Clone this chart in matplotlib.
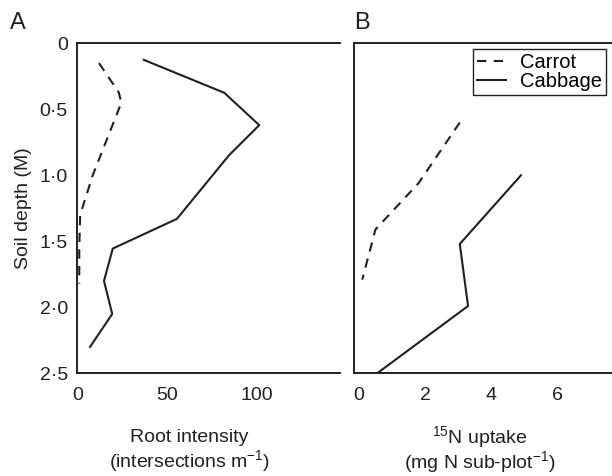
import matplotlib
matplotlib.use('Agg')
import matplotlib.pyplot as plt

plt.rcParams['font.family'] = ['Liberation Sans', 'DejaVu Sans']
plt.rcParams['mathtext.default'] = 'regular'

ink = '#231f20'

# panel A: root intensity (intersections per m) against soil depth (m)
carrot_root_depth = [0.15, 0.37, 0.45, 1.0, 1.3, 1.55, 1.82]
carrot_root = [12, 23, 24.5, 8.5, 1.5, 1, 1]
cabbage_root_depth = [0.125, 0.375, 0.62, 0.85, 1.33, 1.555, 1.8, 2.05, 2.3]
cabbage_root = [37, 82, 101.5, 84.5, 55.5, 19.7, 14.8, 19.4, 7]

# panel B: 15N uptake (mg N per sub-plot) against depth of placement
carrot_n_depth = [0.6, 1.06, 1.41, 1.79]
carrot_n = [3.05, 1.8, 0.5, 0.1]
cabbage_n_depth = [1.0, 1.52, 1.99, 2.5]
cabbage_n = [4.9, 3.05, 3.3, 0.55]

depth_ticks = [0, 0.5, 1.0, 1.5, 2.0, 2.5]
depth_labels = ['0', '0·5', '1·0', '1·5', '2·0', '2·5']

fig = plt.figure(figsize=(6.12, 4.76), dpi=100)
axA = fig.add_axes([0.1266, 0.2157, 0.429, 0.6933])
axB = fig.add_axes([0.5784, 0.2157, 0.429, 0.6933])

dash = (0, (4.5, 3.5))

axA.plot(carrot_root, carrot_root_depth, color=ink, lw=1.5, linestyle=dash)
axA.plot(cabbage_root, cabbage_root_depth, color=ink, lw=1.5)
axB.plot(carrot_n, carrot_n_depth, color=ink, lw=1.5, linestyle=dash, label='Carrot')
axB.plot(cabbage_n, cabbage_n_depth, color=ink, lw=1.5, label='Cabbage')

axA.set_xlim(0, 146.6)
axB.set_xlim(-0.15, 7.79)
for ax in (axA, axB):
    ax.set_ylim(2.5, 0)
    ax.spines['right'].set_visible(False)
    for s in ('left', 'top', 'bottom'):
        ax.spines[s].set_linewidth(1.4)
        ax.spines[s].set_color(ink)
    ax.tick_params(length=0, labelsize=14, colors=ink)
    ax.tick_params(axis='x', pad=10)
    ax.tick_params(axis='y', pad=7)

axA.set_xticks([0, 50, 100])
axB.set_xticks([0, 2, 4, 6])
axA.set_yticks(depth_ticks)
axA.set_yticklabels(depth_labels)
axB.set_yticks(depth_ticks)
axB.set_yticklabels([])

axA.set_ylabel('Soil depth (M)', fontsize=14, color=ink)
axA.yaxis.set_label_coords(-0.175, 0.5)
axA.set_xlabel('Root intensity\n(intersections m$^{-1}$)', fontsize=14, color=ink,
               linespacing=1.1)
axA.xaxis.set_label_coords(0.426, -0.17)
axB.set_xlabel('$^{15}$N uptake\n(mg N sub-plot$^{-1}$)', fontsize=14, color=ink,
               linespacing=0.95)
axB.xaxis.set_label_coords(0.477, -0.155)

leg = axB.legend(loc='upper left', bbox_to_anchor=(473 / 612, 1 - 49 / 476),
                 bbox_transform=fig.transFigure, borderaxespad=0, fontsize=14.5,
                 handlelength=1.45, handletextpad=0.7, borderpad=0.2,
                 labelspacing=0, fancybox=False, framealpha=1)
leg.get_frame().set_edgecolor(ink)
leg.get_frame().set_linewidth(1.0)

fig.text(10 / 612, 1 - 29.3 / 476, 'A', fontsize=17, va='baseline', color=ink)
fig.text(354 / 612, 1 - 29.3 / 476, 'B', fontsize=17, va='baseline', color=ink)

fig.savefig('out.png', dpi=100)
